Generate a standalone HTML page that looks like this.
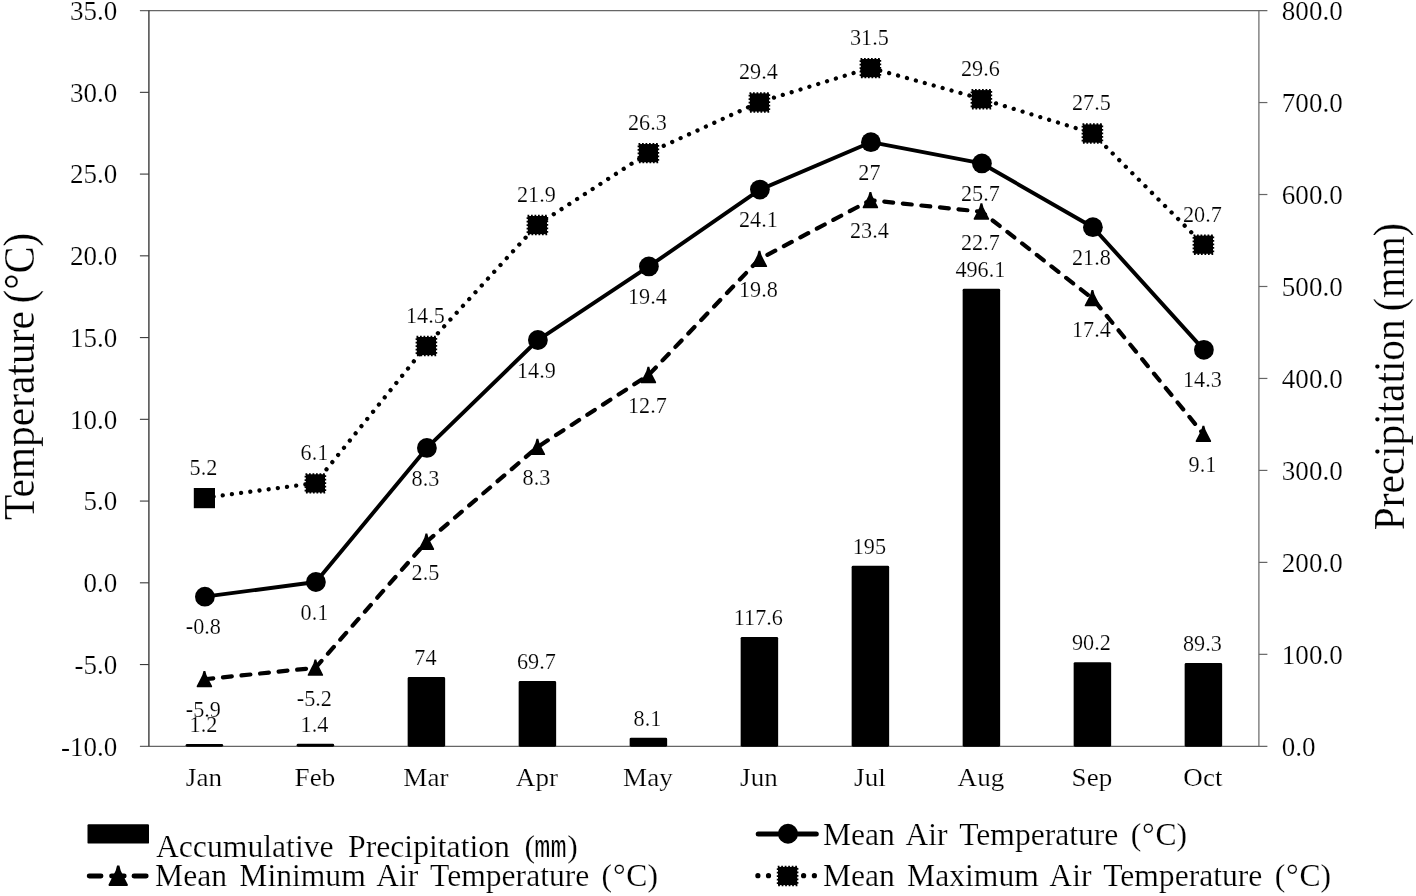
<!DOCTYPE html>
<html><head><meta charset="utf-8"><title>Chart</title>
<style>html,body{margin:0;padding:0;background:#fff;}body{width:1416px;height:896px;overflow:hidden;}svg{display:block;}text{font-family:"Liberation Serif",serif;fill:#000;stroke:#fff;stroke-width:0.2px;}.lg{font-size:31.6px;word-spacing:4.4px;}.mono{font-family:"Liberation Mono",monospace;}</style>
</head><body>
<svg width="1416" height="896" viewBox="0 0 1416 896" style="filter:grayscale(1) blur(0.4px)">
<rect x="0" y="0" width="1416" height="896" fill="#fff"/>
<g stroke="#666" stroke-width="1.2" fill="none">
<line x1="139.9" y1="10.6" x2="1267.4" y2="10.6"/>
<line x1="139.9" y1="746.3" x2="1267.4" y2="746.3"/>
<line x1="1258.9" y1="10.6" x2="1258.9" y2="746.3"/>
<line x1="1258.9" y1="654.34" x2="1267.4" y2="654.34"/>
<line x1="1258.9" y1="562.38" x2="1267.4" y2="562.38"/>
<line x1="1258.9" y1="470.41" x2="1267.4" y2="470.41"/>
<line x1="1258.9" y1="378.45" x2="1267.4" y2="378.45"/>
<line x1="1258.9" y1="286.49" x2="1267.4" y2="286.49"/>
<line x1="1258.9" y1="194.52" x2="1267.4" y2="194.52"/>
<line x1="1258.9" y1="102.56" x2="1267.4" y2="102.56"/>
</g>
<g stroke="#3a3a3a" stroke-width="1.4" fill="none">
<line x1="148.9" y1="10.6" x2="148.9" y2="746.3"/>
<line x1="139.9" y1="92.34" x2="148.9" y2="92.34" stroke-width="1.1"/>
<line x1="139.9" y1="174.09" x2="148.9" y2="174.09" stroke-width="1.1"/>
<line x1="139.9" y1="255.83" x2="148.9" y2="255.83" stroke-width="1.1"/>
<line x1="139.9" y1="337.58" x2="148.9" y2="337.58" stroke-width="1.1"/>
<line x1="139.9" y1="419.32" x2="148.9" y2="419.32" stroke-width="1.1"/>
<line x1="139.9" y1="501.07" x2="148.9" y2="501.07" stroke-width="1.1"/>
<line x1="139.9" y1="582.81" x2="148.9" y2="582.81" stroke-width="1.1"/>
<line x1="139.9" y1="664.56" x2="148.9" y2="664.56" stroke-width="1.1"/>
</g>
<g font-size="26.3" text-anchor="end">
<text transform="translate(117.3,19.80) scale(1.03,1)">35.0</text>
<text transform="translate(117.3,101.54) scale(1.03,1)">30.0</text>
<text transform="translate(117.3,183.29) scale(1.03,1)">25.0</text>
<text transform="translate(117.3,265.03) scale(1.03,1)">20.0</text>
<text transform="translate(117.3,346.78) scale(1.03,1)">15.0</text>
<text transform="translate(117.3,428.52) scale(1.03,1)">10.0</text>
<text transform="translate(117.3,510.27) scale(1.03,1)">5.0</text>
<text transform="translate(117.3,592.01) scale(1.03,1)">0.0</text>
<text transform="translate(117.3,673.76) scale(1.03,1)">-5.0</text>
<text transform="translate(117.3,755.50) scale(1.03,1)">-10.0</text>
</g>
<g font-size="26.3" text-anchor="start">
<text transform="translate(1281.8,755.50) scale(1.03,1)">0.0</text>
<text transform="translate(1281.8,663.54) scale(1.03,1)">100.0</text>
<text transform="translate(1281.8,571.58) scale(1.03,1)">200.0</text>
<text transform="translate(1281.8,479.61) scale(1.03,1)">300.0</text>
<text transform="translate(1281.8,387.65) scale(1.03,1)">400.0</text>
<text transform="translate(1281.8,295.69) scale(1.03,1)">500.0</text>
<text transform="translate(1281.8,203.72) scale(1.03,1)">600.0</text>
<text transform="translate(1281.8,111.76) scale(1.03,1)">700.0</text>
<text transform="translate(1281.8,19.80) scale(1.03,1)">800.0</text>
</g>
<g font-size="25.3" text-anchor="middle">
<text transform="translate(203.90,786.1) scale(1.07,1)">Jan</text>
<text transform="translate(314.90,786.1) scale(1.07,1)">Feb</text>
<text transform="translate(425.90,786.1) scale(1.07,1)">Mar</text>
<text transform="translate(536.90,786.1) scale(1.07,1)">Apr</text>
<text transform="translate(647.90,786.1) scale(1.07,1)">May</text>
<text transform="translate(758.90,786.1) scale(1.07,1)">Jun</text>
<text transform="translate(869.90,786.1) scale(1.07,1)">Jul</text>
<text transform="translate(980.90,786.1) scale(1.07,1)">Aug</text>
<text transform="translate(1091.90,786.1) scale(1.07,1)">Sep</text>
<text transform="translate(1202.90,786.1) scale(1.07,1)">Oct</text>
</g>
<g fill="#000">
<rect x="185.65" y="744.00" width="37.5" height="2.70" rx="1.4" ry="1.4"/>
<rect x="296.65" y="743.81" width="37.5" height="2.89" rx="1.4" ry="1.4"/>
<rect x="407.65" y="677.05" width="37.5" height="69.65" rx="1.4" ry="1.4"/>
<rect x="518.65" y="681.00" width="37.5" height="65.70" rx="1.4" ry="1.4"/>
<rect x="629.65" y="737.65" width="37.5" height="9.05" rx="1.4" ry="1.4"/>
<rect x="740.65" y="636.95" width="37.5" height="109.75" rx="1.4" ry="1.4"/>
<rect x="851.65" y="565.77" width="37.5" height="180.93" rx="1.4" ry="1.4"/>
<rect x="962.65" y="288.87" width="37.5" height="457.83" rx="1.4" ry="1.4"/>
<rect x="1073.65" y="662.15" width="37.5" height="84.55" rx="1.4" ry="1.4"/>
<rect x="1184.65" y="662.98" width="37.5" height="83.72" rx="1.4" ry="1.4"/>
</g>
<polyline points="204.40,497.80 315.40,483.08 426.40,345.75 537.40,224.77 648.40,152.84 759.40,102.15 870.40,67.82 981.40,98.88 1092.40,133.22 1203.40,244.39" fill="none" stroke="#000" stroke-width="4.3" stroke-linecap="round" stroke-dasharray="0.01 9.25"/>
<polyline points="204.40,595.89 315.40,581.18 426.40,447.12 537.40,339.21 648.40,265.64 759.40,188.80 870.40,141.39 981.40,162.64 1092.40,226.41 1203.40,349.02" fill="none" stroke="#000" stroke-width="3.9" stroke-linejoin="round" transform="translate(0.5,0.8)"/>
<polyline points="204.40,679.27 315.40,667.83 426.40,541.94 537.40,447.12 648.40,375.18 759.40,259.10 870.40,200.25 981.40,211.69 1092.40,298.34 1203.40,434.04" fill="none" stroke="#000" stroke-width="4.2" stroke-linecap="round" stroke-dasharray="8.9 9.75"/>
<rect x="193.80" y="488.00" width="21.2" height="20.2" fill="#000"/>
<rect x="305.80" y="474.28" width="19.2" height="18.2" fill="#000"/><rect x="305.50" y="474.08" width="19.8" height="18.6" fill="none" stroke="#000" stroke-width="1.8" stroke-dasharray="1.75 1.75"/>
<rect x="416.80" y="336.95" width="19.2" height="18.2" fill="#000"/><rect x="416.50" y="336.75" width="19.8" height="18.6" fill="none" stroke="#000" stroke-width="1.8" stroke-dasharray="1.75 1.75"/>
<rect x="527.80" y="215.97" width="19.2" height="18.2" fill="#000"/><rect x="527.50" y="215.77" width="19.8" height="18.6" fill="none" stroke="#000" stroke-width="1.8" stroke-dasharray="1.75 1.75"/>
<rect x="638.80" y="144.04" width="19.2" height="18.2" fill="#000"/><rect x="638.50" y="143.84" width="19.8" height="18.6" fill="none" stroke="#000" stroke-width="1.8" stroke-dasharray="1.75 1.75"/>
<rect x="749.80" y="93.35" width="19.2" height="18.2" fill="#000"/><rect x="749.50" y="93.15" width="19.8" height="18.6" fill="none" stroke="#000" stroke-width="1.8" stroke-dasharray="1.75 1.75"/>
<rect x="860.80" y="59.02" width="19.2" height="18.2" fill="#000"/><rect x="860.50" y="58.82" width="19.8" height="18.6" fill="none" stroke="#000" stroke-width="1.8" stroke-dasharray="1.75 1.75"/>
<rect x="971.80" y="90.08" width="19.2" height="18.2" fill="#000"/><rect x="971.50" y="89.88" width="19.8" height="18.6" fill="none" stroke="#000" stroke-width="1.8" stroke-dasharray="1.75 1.75"/>
<rect x="1082.80" y="124.42" width="19.2" height="18.2" fill="#000"/><rect x="1082.50" y="124.22" width="19.8" height="18.6" fill="none" stroke="#000" stroke-width="1.8" stroke-dasharray="1.75 1.75"/>
<rect x="1193.80" y="235.59" width="19.2" height="18.2" fill="#000"/><rect x="1193.50" y="235.39" width="19.8" height="18.6" fill="none" stroke="#000" stroke-width="1.8" stroke-dasharray="1.75 1.75"/>
<circle cx="204.90" cy="596.69" r="9.9" fill="#000"/>
<circle cx="315.90" cy="581.98" r="9.9" fill="#000"/>
<circle cx="426.90" cy="447.92" r="9.9" fill="#000"/>
<circle cx="537.90" cy="340.01" r="9.9" fill="#000"/>
<circle cx="648.90" cy="266.44" r="9.9" fill="#000"/>
<circle cx="759.90" cy="189.60" r="9.9" fill="#000"/>
<circle cx="870.90" cy="142.19" r="9.9" fill="#000"/>
<circle cx="981.90" cy="163.44" r="9.9" fill="#000"/>
<circle cx="1092.90" cy="227.21" r="9.9" fill="#000"/>
<circle cx="1203.90" cy="349.82" r="9.9" fill="#000"/>
<path d="M203.47,670.90 L205.33,670.90 L206.45,675.08 L208.31,678.80 L212.21,686.34 L211.84,687.27 L196.96,687.27 L196.59,686.34 L200.49,678.80 L202.35,675.08 Z" fill="#000"/>
<path d="M314.47,659.46 L316.33,659.46 L317.45,663.64 L319.31,667.36 L323.21,674.89 L322.84,675.82 L307.96,675.82 L307.59,674.89 L311.49,667.36 L313.35,663.64 Z" fill="#000"/>
<path d="M425.47,533.57 L427.33,533.57 L428.45,537.75 L430.31,541.47 L434.21,549.01 L433.84,549.94 L418.96,549.94 L418.59,549.01 L422.49,541.47 L424.35,537.75 Z" fill="#000"/>
<path d="M536.47,438.75 L538.33,438.75 L539.45,442.93 L541.31,446.65 L545.21,454.18 L544.84,455.11 L529.96,455.11 L529.59,454.18 L533.49,446.65 L535.35,442.93 Z" fill="#000"/>
<path d="M647.47,366.81 L649.33,366.81 L650.45,371.00 L652.31,374.72 L656.21,382.25 L655.84,383.18 L640.96,383.18 L640.59,382.25 L644.49,374.72 L646.35,371.00 Z" fill="#000"/>
<path d="M758.47,250.73 L760.33,250.73 L761.45,254.92 L763.31,258.64 L767.21,266.17 L766.84,267.10 L751.96,267.10 L751.59,266.17 L755.49,258.64 L757.35,254.92 Z" fill="#000"/>
<path d="M869.47,191.88 L871.33,191.88 L872.45,196.06 L874.31,199.78 L878.21,207.32 L877.84,208.25 L862.96,208.25 L862.59,207.32 L866.49,199.78 L868.35,196.06 Z" fill="#000"/>
<path d="M980.47,203.32 L982.33,203.32 L983.45,207.51 L985.31,211.23 L989.21,218.76 L988.84,219.69 L973.96,219.69 L973.59,218.76 L977.49,211.23 L979.35,207.51 Z" fill="#000"/>
<path d="M1091.47,289.97 L1093.33,289.97 L1094.45,294.16 L1096.31,297.88 L1100.21,305.41 L1099.84,306.34 L1084.96,306.34 L1084.59,305.41 L1088.49,297.88 L1090.35,294.16 Z" fill="#000"/>
<path d="M1202.47,425.67 L1204.33,425.67 L1205.45,429.85 L1207.31,433.57 L1211.21,441.10 L1210.84,442.03 L1195.96,442.03 L1195.59,441.10 L1199.49,433.57 L1201.35,429.85 Z" fill="#000"/>
<g font-size="24" text-anchor="middle">
<text transform="translate(203.40,475.00) scale(0.925,1)">5.2</text>
<text transform="translate(314.40,460.28) scale(0.925,1)">6.1</text>
<text transform="translate(425.40,322.95) scale(0.925,1)">14.5</text>
<text transform="translate(536.40,201.97) scale(0.925,1)">21.9</text>
<text transform="translate(647.40,130.04) scale(0.925,1)">26.3</text>
<text transform="translate(758.40,79.35) scale(0.925,1)">29.4</text>
<text transform="translate(869.40,45.02) scale(0.925,1)">31.5</text>
<text transform="translate(980.40,76.08) scale(0.925,1)">29.6</text>
<text transform="translate(1091.40,110.42) scale(0.925,1)">27.5</text>
<text transform="translate(1202.40,221.59) scale(0.925,1)">20.7</text>
<text transform="translate(203.40,634.29) scale(0.925,1)">-0.8</text>
<text transform="translate(314.40,619.58) scale(0.925,1)">0.1</text>
<text transform="translate(425.40,485.52) scale(0.925,1)">8.3</text>
<text transform="translate(536.40,377.61) scale(0.925,1)">14.9</text>
<text transform="translate(647.40,304.04) scale(0.925,1)">19.4</text>
<text transform="translate(758.40,227.20) scale(0.925,1)">24.1</text>
<text transform="translate(869.40,179.79) scale(0.925,1)">27</text>
<text transform="translate(980.40,201.04) scale(0.925,1)">25.7</text>
<text transform="translate(1091.40,264.81) scale(0.925,1)">21.8</text>
<text transform="translate(1202.40,387.42) scale(0.925,1)">14.3</text>
<text transform="translate(203.40,717.47) scale(0.925,1)">-5.9</text>
<text transform="translate(314.40,706.03) scale(0.925,1)">-5.2</text>
<text transform="translate(425.40,580.14) scale(0.925,1)">2.5</text>
<text transform="translate(536.40,485.32) scale(0.925,1)">8.3</text>
<text transform="translate(647.40,413.38) scale(0.925,1)">12.7</text>
<text transform="translate(758.40,297.30) scale(0.925,1)">19.8</text>
<text transform="translate(869.40,238.45) scale(0.925,1)">23.4</text>
<text transform="translate(980.40,249.89) scale(0.925,1)">22.7</text>
<text transform="translate(1091.40,336.54) scale(0.925,1)">17.4</text>
<text transform="translate(1202.40,472.24) scale(0.925,1)">9.1</text>
<text transform="translate(203.40,731.90) scale(0.925,1)">1.2</text>
<text transform="translate(314.40,731.71) scale(0.925,1)">1.4</text>
<text transform="translate(425.40,664.95) scale(0.925,1)">74</text>
<text transform="translate(536.40,668.90) scale(0.925,1)">69.7</text>
<text transform="translate(647.40,725.55) scale(0.925,1)">8.1</text>
<text transform="translate(758.40,624.85) scale(0.925,1)">117.6</text>
<text transform="translate(869.40,553.67) scale(0.925,1)">195</text>
<text transform="translate(980.40,276.77) scale(0.925,1)">496.1</text>
<text transform="translate(1091.40,650.05) scale(0.925,1)">90.2</text>
<text transform="translate(1202.40,650.88) scale(0.925,1)">89.3</text>
</g>
<text font-size="44.6" text-anchor="start" transform="translate(33.6,520) rotate(-90) scale(0.93,1)">Temperature</text>
<text font-size="44.6" text-anchor="end" transform="translate(33.6,233) rotate(-90) scale(0.91,1)">(°C)</text>
<text font-size="43.7" text-anchor="start" transform="translate(1404,530.3) rotate(-90) scale(0.945,1)">Precipitation</text>
<text font-size="43.7" text-anchor="end" transform="translate(1404,223.1) rotate(-90) scale(0.907,1)">(mm)</text>
<rect x="87.5" y="824.2" width="61.5" height="19.4" rx="1.2" ry="1.2" fill="#000"/>
<text x="155.9" y="856.8" class="lg" style="word-spacing:6.5px;font-size:31.7px">Accumulative Precipitation (</text>
<text class="mono" font-size="31" transform="translate(534.2,856.8) scale(0.87,1)">mm</text>
<text x="567.3" y="856.8" class="lg">)</text>
<g stroke="#000" stroke-width="4.9" stroke-linecap="round"><line x1="89.2" y1="876" x2="101" y2="876"/><line x1="134" y1="876" x2="146.2" y2="876"/><line x1="111.6" y1="876" x2="124.2" y2="876"/></g>
<path d="M117.04,865.46 L119.36,865.46 L120.75,870.68 L123.07,875.32 L127.94,884.72 L127.48,885.88 L108.92,885.88 L108.46,884.72 L113.33,875.32 L115.65,870.68 Z" fill="#000"/>
<text x="155.1" y="886.1" class="lg">Mean Minimum Air Temperature (<tspan dx="0.8">°</tspan><tspan dx="0.8">C)</tspan></text>
<line x1="758.2" y1="833.9" x2="816.3" y2="833.9" stroke="#000" stroke-width="5.0" stroke-linecap="round"/>
<circle cx="788" cy="833.8" r="10" fill="#000"/>
<text x="822.9" y="844.9" class="lg">Mean Air Temperature (<tspan dx="0.8">°</tspan><tspan dx="0.8">C)</tspan></text>
<g fill="#000"><circle cx="757.9" cy="875.7" r="2.6"/><circle cx="768.5" cy="875.7" r="2.6"/><circle cx="803.6" cy="875.7" r="2.6"/><circle cx="814.4" cy="875.7" r="2.6"/></g>
<rect x="778.00" y="866.90" width="19.2" height="18.2" fill="#000"/><rect x="777.70" y="866.70" width="19.8" height="18.6" fill="none" stroke="#000" stroke-width="1.8" stroke-dasharray="1.75 1.75"/>
<text x="822.9" y="885.8" class="lg">Mean Maximum Air Temperature (<tspan dx="0.8">°</tspan><tspan dx="0.8">C)</tspan></text>
</svg>
</body></html>
